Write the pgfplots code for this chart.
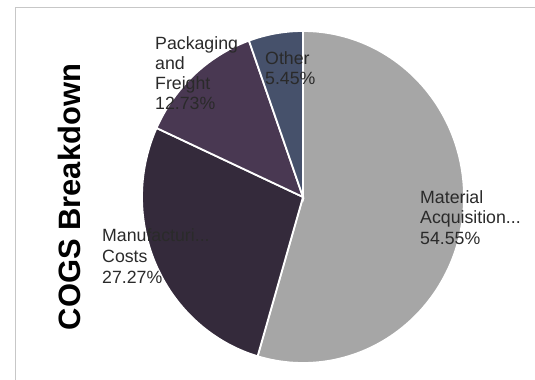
\documentclass[border=0pt]{standalone}
\usepackage{pgfplots}
\pgfplotsset{compat=1.18}
\usepackage{fontspec}
\setmainfont{Liberation Sans}
\definecolor{cMat}{HTML}{A6A6A6}
\definecolor{cMan}{HTML}{342A3B}
\definecolor{cPack}{HTML}{493852}
\definecolor{cOth}{HTML}{46516B}
\definecolor{cTxt}{HTML}{2A2A2A}
% shares (percent)
\def\vMat{54.55}
\def\vMan{27.27}
\def\vPack{12.73}
\def\vOth{5.45}
\def\cx{303}
\def\cy{183}
\def\rx{161}
\def\ry{166}
\tikzset{lab/.style={font=\fontsize{17.8}{20}\selectfont, text=cTxt, anchor=base west, inner sep=0pt}}
\begin{document}
\begin{tikzpicture}
\pgfmathsetmacro\aA{90}
\pgfmathsetmacro\aB{\aA-3.6*\vMat}
\pgfmathsetmacro\aC{\aB-3.6*\vMan}
\pgfmathsetmacro\aD{\aC-3.6*\vPack}
\pgfmathsetmacro\aE{\aD-3.6*\vOth}
\begin{axis}[
  scale only axis, width=535bp, height=380bp,
  xmin=0, xmax=535, ymin=0, ymax=380,
  hide axis, clip=false,
  every axis plot/.append style={no marks},
]
% frame
\addplot[color=black!22, line width=1bp] coordinates {(15,0) (15,372) (535,372)};
% sectors
\addplot[fill=cMat, draw=white, line width=1.8bp, domain=\aB:\aA, samples=120, variable=\t]
  ({\cx+\rx*cos(\t)},{\cy+\ry*sin(\t)}) -- (axis cs:\cx,\cy) -- cycle;
\addplot[fill=cMan, draw=white, line width=1.8bp, domain=\aC:\aB, samples=80, variable=\t]
  ({\cx+\rx*cos(\t)},{\cy+\ry*sin(\t)}) -- (axis cs:\cx,\cy) -- cycle;
\addplot[fill=cPack, draw=white, line width=1.8bp, domain=\aD:\aC, samples=50, variable=\t]
  ({\cx+\rx*cos(\t)},{\cy+\ry*sin(\t)}) -- (axis cs:\cx,\cy) -- cycle;
\addplot[fill=cOth, draw=white, line width=1.8bp, domain=\aE:\aD, samples=30, variable=\t]
  ({\cx+\rx*cos(\t)},{\cy+\ry*sin(\t)}) -- (axis cs:\cx,\cy) -- cycle;
% title
\node[rotate=90, font=\fontsize{31}{36}\selectfont\bfseries, text=black] at (axis cs:69,183) {COGS Breakdown};
% labels (baselines)
\node[lab] at (axis cs:420,177) {Material};
\node[lab] at (axis cs:420,156.5) {Acquisition...};
\node[lab] at (axis cs:420,136) {54.55\%};
\node[lab] at (axis cs:102,139) {Manufacturi...};
\node[lab] at (axis cs:102,118) {Costs};
\node[lab] at (axis cs:102,97) {27.27\%};
\node[lab] at (axis cs:155,331) {Packaging};
\node[lab] at (axis cs:155,311) {and};
\node[lab] at (axis cs:155,291) {Freight};
\node[lab] at (axis cs:155,271) {12.73\%};
\node[lab] at (axis cs:265,316) {Other};
\node[lab] at (axis cs:265,296) {5.45\%};
\end{axis}
\pgfresetboundingbox
\path (current axis.south west) rectangle (current axis.north east);
\end{tikzpicture}
\end{document}
